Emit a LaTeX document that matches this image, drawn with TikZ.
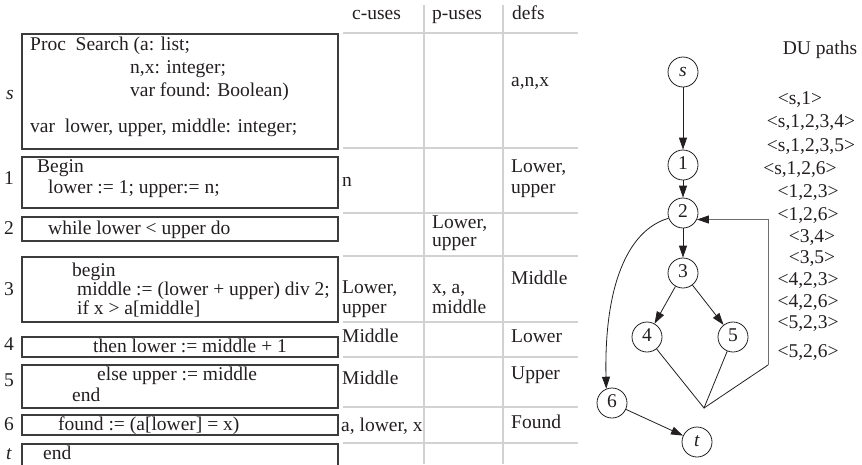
\documentclass[tikz,border=0pt]{standalone}
\usepackage{fontspec}
\setmainfont{Liberation Serif}
\usetikzlibrary{arrows.meta}
\definecolor{inkColor}{HTML}{231F20}
\definecolor{gridColor}{HTML}{D2D2D2}
\definecolor{boxColor}{HTML}{3C3C3C}
\definecolor{loopColor}{HTML}{6E6E6E}

\begin{document}
\begin{tikzpicture}[x=1pt, y=-1pt, font=\fontsize{19.5}{22}\selectfont,
    every node/.style={inner sep=0pt, text=inkColor, text height=13pt, text depth=4pt},
    txt/.style={anchor=west},
    vert/.style={draw=inkColor, circle, minimum size=30pt, line width=0.8pt},
    arc/.style={draw=inkColor, line width=0.8pt, -{Triangle[length=12pt,width=8pt,color=inkColor]}}]
    \useasboundingbox (0,0) rectangle (862,464);

    % table grid
    \foreach \y in {33,148,213,256,322,357,407,443}
        \draw[gridColor, line width=1.2pt] (343,\y) -- (578,\y);
    \draw[gridColor, line width=1.2pt] (424,5) -- (424,464);
    \draw[gridColor, line width=1.2pt] (503,5) -- (503,464);
    \node[txt] (hdC) at (352,15) {c-uses};
    \node[txt] (hdP) at (432,15) {p-uses};
    \node[txt] (hdD) at (512,15) {defs};

    % code boxes
    \foreach \top/\bot in {34/149, 157/208, 217/241, 257/322, 337/357, 365/408, 415/435, 444/470}
        \draw[boxColor, line width=1.1pt] (22,\top) rectangle (338,\bot);

    \node[txt] (lbS) at (6,95) {\textit{s}};
    \node[txt] (lb1) at (4,180) {1};
    \node[txt] (lb2) at (4,230) {2};
    \node[txt] (lb3) at (4,291) {3};
    \node[txt] (lb4) at (4,346) {4};
    \node[txt] (lb5) at (4,382) {5};
    \node[txt] (lb6) at (4,426) {6};
    \node[txt] (lbT) at (6,455) {\textit{t}};

    \node[txt] (cS1) at (30,46) {Proc\ \ Search (a: list;};
    \node[txt] (cS2) at (130,69) {n,x: integer;};
    \node[txt] (cS3) at (130,92) {var found: Boolean)};
    \node[txt] (cS4) at (30,128) {var\ \ lower, upper, middle: integer;};
    \node[txt] (c1a) at (37,168) {Begin};
    \node[txt] (c1b) at (48,189) {lower := 1; upper:= n;};
    \node[txt] (c2) at (48,230) {while lower < upper do};
    \node[txt] (c3a) at (72,272) {begin};
    \node[txt] (c3b) at (77,291) {middle := (lower + upper) div 2;};
    \node[txt] (c3c) at (77,310) {if x > a[middle]};
    \node[txt] (c4) at (93,348) {then lower := middle + 1};
    \node[txt] (c5a) at (97,376) {else upper := middle};
    \node[txt] (c5b) at (72,397) {end};
    \node[txt] (c6) at (58,426) {found := (a[lower] = x)};
    \node[txt] (cT) at (43,455) {end};

    % c-uses, p-uses, defs
    \node[txt] (u1) at (342,182) {n};
    \node[txt] (u3a) at (342,289) {Lower,};
    \node[txt] (u3b) at (342,309) {upper};
    \node[txt] (u4) at (342,338) {Middle};
    \node[txt] (u5) at (342,380) {Middle};
    \node[txt] (u6) at (341,427) {a, lower, x};
    \node[txt] (p2a) at (432,224) {Lower,};
    \node[txt] (p2b) at (432,242) {upper};
    \node[txt] (p3a) at (432,289) {x, a,};
    \node[txt] (p3b) at (432,309) {middle};
    \node[txt] (dS) at (511,82) {a,n,x};
    \node[txt] (d1a) at (511,168) {Lower,};
    \node[txt] (d1b) at (511,189) {upper};
    \node[txt] (d3) at (511,280) {Middle};
    \node[txt] (d4) at (511,338) {Lower};
    \node[txt] (d5) at (511,375) {Upper};
    \node[txt] (d6) at (511,424) {Found};

    % flow graph
    \node[vert] (ns) at (683,72) {\textit{s}};
    \node[vert] (n1) at (683,165) {1};
    \node[vert] (n2) at (683,213) {2};
    \node[vert] (n3) at (683,273) {3};
    \node[vert] (n4) at (647,337) {4};
    \node[vert] (n5) at (733,337) {5};
    \node[vert] (n6) at (612,403) {6};
    \node[vert] (nt) at (697,442) {\textit{t}};
    \coordinate (join) at (704,408);
    \coordinate (back) at (768,365);

    \draw[arc] (ns) -- (n1);
    \draw[arc] (n1) -- (n2);
    \draw[arc] (n2) -- (n3);
    \draw[arc] (n3) -- (n4);
    \draw[arc] (n3) -- (n5);
    \draw[arc] (n6) -- (nt);
    \draw[arc] (n2.200) .. controls (628,230) and (604,285) .. (n6.112);
    \draw[inkColor, line width=0.8pt] (n4) -- (join) -- (n5);
    \draw[inkColor, line width=0.8pt] (join) -- (back);
    \draw[arc, draw=loopColor, line width=1pt] (back) |- (n2.-25);

    % DU paths
    \node (du) at (820,50) {DU paths};
    \node (p1) at (800,100) {<s,1>};
    \node (p2) at (811,123) {<s,1,2,3,4>};
    \node (p3) at (811,147) {<s,1,2,3,5>};
    \node (p4) at (800,170) {<s,1,2,6>};
    \node (p5) at (808,193) {<1,2,3>};
    \node (p6) at (808,216) {<1,2,6>};
    \node (p7) at (812,238) {<3,4>};
    \node (p8) at (812,259) {<3,5>};
    \node (p9) at (808,281) {<4,2,3>};
    \node (p10) at (808,303) {<4,2,6>};
    \node (p11) at (808,324) {<5,2,3>};
    \node (p12) at (808,353) {<5,2,6>};
\end{tikzpicture}
\end{document}
